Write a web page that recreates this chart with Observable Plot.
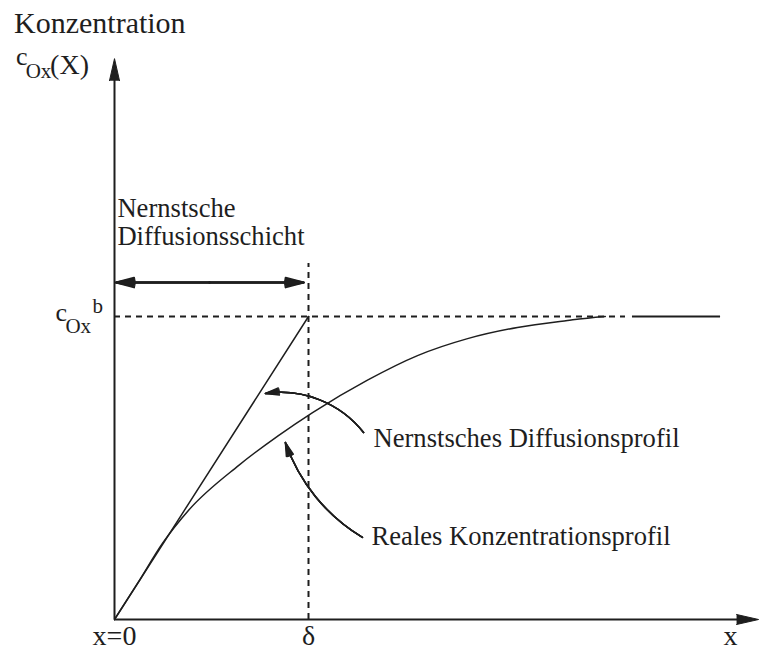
<!DOCTYPE html>
<html>
<head>
<meta charset="utf-8">
<script src="https://cdn.jsdelivr.net/npm/d3@7"></script>
<script src="https://cdn.jsdelivr.net/npm/@observablehq/plot@0.6"></script>
<style>
  html, body { margin: 0; padding: 0; background: #fff; }
  #chart svg { display: block; }
</style>
</head>
<body>
<div id="chart"></div>
<script>
// Distance from the electrode, in units of the Nernst layer thickness δ
const positions = [0, 0.119, 0.247, 0.381, 0.639, 0.845, 1.021, 1.304, 1.562, 1.820, 2.077, 2.335, 2.469, 2.53];
// Real concentration profile c_Ox(x) / c_Ox^b
const realProfile = [0, 0.119, 0.251, 0.360, 0.508, 0.607, 0.683, 0.790, 0.871, 0.927, 0.964, 0.987, 0.997, 1.0];
// Nernst linear profile: zero at the electrode, bulk value at x = δ
const nernstX = [0, 1];
const nernstC = [0, 1];
// Bulk concentration and the layer thickness
const bulkLevel = 1;
const delta = 1;
// Bulk line: dashed guide, then the solid plateau beyond the profile
const bulkDashEnd = 2.634;
const bulkSolid = [2.67, 3.124];
// Axis tick labels
const tickPositions = [0, 1];
const tickLabels = ["x=0", "δ"];

const W = 759, H = 653;
const origin = {x: 114, y: 619};   // pixel position of (0, 0)
const unit = {x: 194, y: 303};     // pixels per unit

const profileData = positions.map((x, i) => ({x, c: realProfile[i]}));
const nernstData = nernstX.map((x, i) => ({x, c: nernstC[i]}));
const ticks = tickPositions.map((x, i) => ({x, label: tickLabels[i]}));

const ink = "#1e1e1e";
const serif = "'Liberation Serif', 'Times New Roman', serif";
const xMax = 3.32, yMax = 1.851;

const label = (text, x, y, size, extra = {}) =>
  Plot.text([text], {x: () => x, y: () => y, text: d => d, fontSize: size,
    textAnchor: "start", fill: ink, fontFamily: serif, ...extra});

// Arrow with a solid-looking head: the same arrow drawn with narrowing heads
const solidArrow = (data, options) =>
  [30, 22, 14, 6].map(headAngle =>
    Plot.arrow(data, {stroke: ink, headLength: 14, ...options, headAngle}));

const chart = Plot.plot({
  width: W,
  height: H,
  margin: 0,
  style: {background: "#fff", fontFamily: serif},
  x: {domain: [-origin.x / unit.x, (W - origin.x) / unit.x], range: [0, W], axis: null},
  y: {domain: [(origin.y - H) / unit.y, origin.y / unit.y], range: [H, 0], axis: null},
  marks: [
    // Guides: bulk level and layer thickness
    Plot.ruleY([bulkLevel], {x1: 0, x2: bulkDashEnd, stroke: ink, strokeWidth: 2, strokeDasharray: "6,5"}),
    Plot.ruleY([bulkLevel], {x1: bulkSolid[0], x2: bulkSolid[1], stroke: ink, strokeWidth: 2}),
    Plot.ruleX([delta], {y1: 0, y2: 1.175, stroke: ink, strokeWidth: 2, strokeDasharray: "6,5"}),

    // Profiles
    Plot.line(nernstData, {x: "x", y: "c", stroke: ink, strokeWidth: 1.5}),
    Plot.line(profileData, {x: "x", y: "c", curve: "monotone-x", stroke: ink, strokeWidth: 1.5}),

    // Axes with arrow tips
    Plot.ruleX([0], {y1: 0, y2: yMax - 0.04, stroke: ink, strokeWidth: 2}),
    Plot.ruleY([0], {x1: 0, x2: xMax - 0.06, stroke: ink, strokeWidth: 2}),
    Plot.vector([{x: 0, y: yMax, r: 0}, {x: xMax, y: 0, r: 90}],
      {x: "x", y: "y", rotate: "r", length: 22, r: 5, shape: "spike", anchor: "end", fill: ink, stroke: ink, strokeWidth: 1}),

    // Nernst layer width, double arrow
    ...solidArrow([{x1: 0.49, x2: 0.008}, {x1: 0.49, x2: 0.975}],
      {x1: "x1", x2: "x2", y1: () => 1.112, y2: () => 1.112, strokeWidth: 2}),

    // Pointers from the annotations to the profiles
    ...solidArrow([{x1: 1.284, y1: 0.617, x2: 0.778, y2: 0.746}],
      {x1: "x1", y1: "y1", x2: "x2", y2: "y2", bend: -30, strokeWidth: 1.5}),
    ...solidArrow([{x1: 1.278, y1: 0.271, x2: 0.881, y2: 0.584}],
      {x1: "x1", y1: "y1", x2: "x2", y2: "y2", bend: 20, strokeWidth: 1.5}),

    // Tick labels under the x axis
    Plot.text(ticks, {x: "x", y: () => -0.056, text: "label", fontSize: 28, fill: ink, fontFamily: serif}),
    label("x", 3.175, -0.056, 28, {textAnchor: "middle"}),

    // Axis title and symbols
    label("Konzentration", -0.518, 1.966, 30, {letterSpacing: "2.5px"}),
    label("c", -0.508, 1.856, 26),
    label("Ox", -0.458, 1.808, 21),
    label("(X)", -0.332, 1.829, 28),
    label("c", -0.304, 1.014, 26),
    label("Ox", -0.253, 0.969, 21),
    label("b", -0.113, 1.035, 21),

    // Annotations
    label("Nernstsche", 0.015, 1.356, 26.6),
    label("Diffusionsschicht", 0.015, 1.264, 26.6),
    label("Nernstsches Diffusionsprofil", 1.335, 0.597, 26.6),
    label("Reales Konzentrationsprofil", 1.325, 0.274, 26.6)
  ]
});

document.getElementById("chart").append(chart);
</script>
</body>
</html>
